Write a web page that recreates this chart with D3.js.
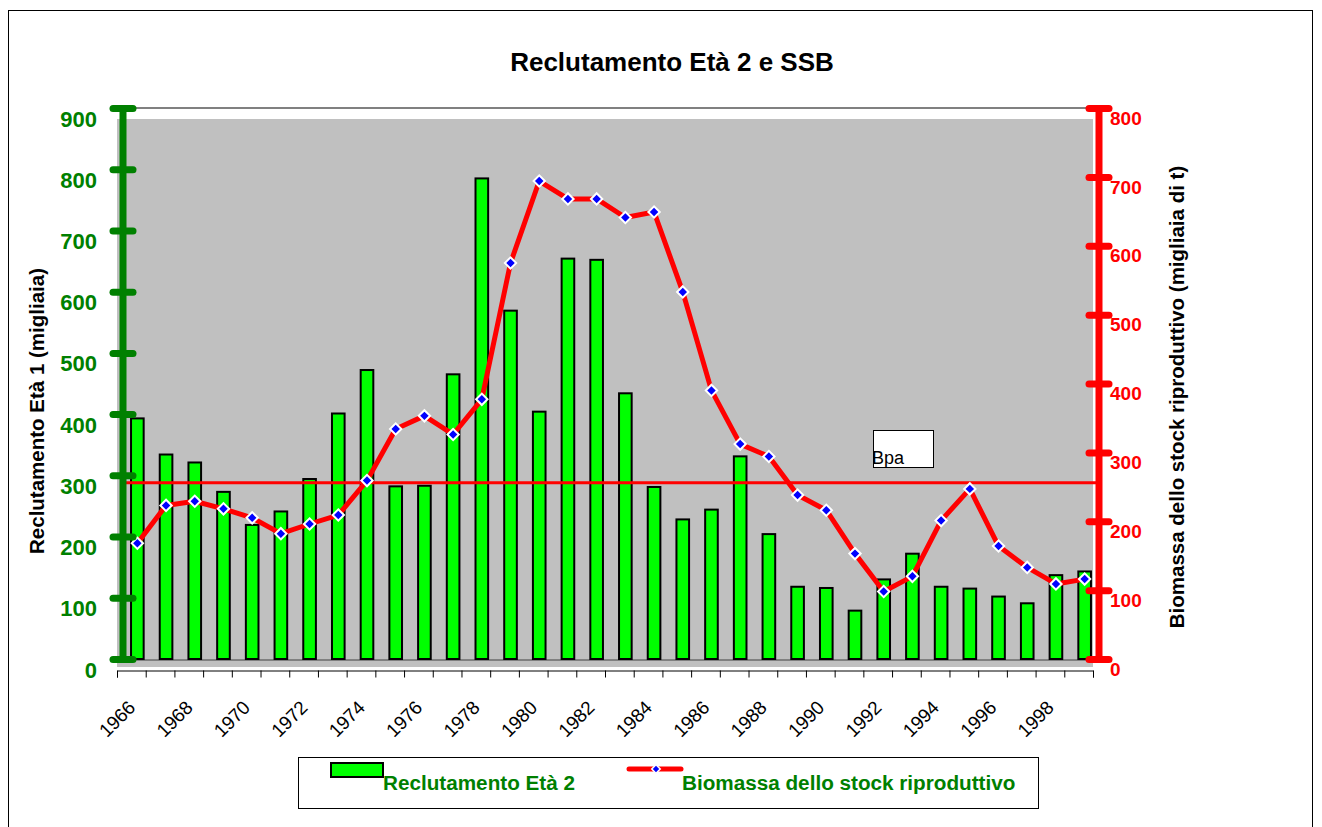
<!DOCTYPE html>
<html>
<head>
<meta charset="utf-8">
<script src="https://cdn.jsdelivr.net/npm/d3@7"></script>
<style>
  body { margin: 0; background: #fff; }
  text { font-family: "Liberation Sans", Arial, sans-serif; }
</style>
</head>
<body>
<div class="canvas"></div>
<script>
// Data

const years = d3.range(1966, 2000);
const reclutamento = [393, 334, 321, 273, 219, 241, 294, 401, 472, 282,
                      283, 465, 785, 569, 404, 654, 652, 434, 281, 228,
                      244, 331, 204, 118, 116, 79, 130, 172, 118, 115,
                      102, 91, 137, 143];
const biomassa = [168, 223, 229, 218, 205, 182, 196, 209, 259, 334,
                  353, 326, 377, 575, 694, 668, 668, 641, 649, 533,
                  390, 312, 294, 238, 216, 153, 98, 120, 201, 247,
                  164, 133, 109, 116];
const bpa = 256;
const leftTicks = [0, 100, 200, 300, 400, 500, 600, 700, 800, 900];
const rightTicks = [0, 100, 200, 300, 400, 500, 600, 700, 800];
const yearLabels = d3.range(1966, 2000, 2);

// Plot box

const plot = { left: 123, right: 1099, top: 108, bottom: 659 };

const svg = d3.select(".canvas")
    .append("svg")
        .attr("width", 1322)
        .attr("height", 827);

// outer chart border
svg.append("rect")
    .attr("x", 8.5).attr("y", 10.5)
    .attr("width", 1304).attr("height", 830)
    .attr("fill", "none")
    .attr("stroke", "#000");

// Scales

const x = d3.scaleBand()
    .domain(years)
    .range([plot.left, plot.right]);

const yL = d3.scaleLinear()
    .domain([0, 900])
    .range([plot.bottom, plot.top]);

const yR = d3.scaleLinear()
    .domain([0, 800])
    .range([plot.bottom, plot.top]);

// the category axis sits a little left of and below the plot, like the original
const xAxisScale = d3.scaleLinear()
    .domain([0, years.length])
    .range([plot.left - 6, plot.right - 6]);

// Plot area background (offset like the original)

svg.append("rect")
    .attr("x", plot.left - 6)
    .attr("y", plot.top + 11)
    .attr("width", plot.right - plot.left)
    .attr("height", plot.bottom - plot.top - 3)
    .attr("fill", "#c0c0c0");

svg.append("rect")
    .attr("x", plot.left)
    .attr("y", plot.top)
    .attr("width", plot.right - plot.left)
    .attr("height", plot.bottom - plot.top + 1)
    .attr("fill", "none")
    .attr("stroke", "#808080")
    .attr("stroke-width", 2);

// Title

svg.append("text")
    .attr("x", 672)
    .attr("y", 71)
    .attr("text-anchor", "middle")
    .attr("font-size", 26)
    .attr("font-weight", "bold")
    .text("Reclutamento Età 2 e SSB");

// Bars

const barW = x.bandwidth() * 0.44;

svg.append("g")
    .selectAll("rect")
    .data(years)
    .join("rect")
        .attr("x", d => x(d) + x.bandwidth() / 2 - barW / 2)
        .attr("y", (d, i) => yL(reclutamento[i]))
        .attr("width", barW)
        .attr("height", (d, i) => yL(0) - yL(reclutamento[i]))
        .attr("fill", "#00ff00")
        .attr("stroke", "#000")
        .attr("stroke-width", 2);

// Bpa reference line

svg.append("line")
    .attr("x1", plot.left + 2)
    .attr("x2", plot.right)
    .attr("y1", yR(bpa))
    .attr("y2", yR(bpa))
    .attr("stroke", "#ff0000")
    .attr("stroke-width", 3);

svg.append("rect")
    .attr("x", 873.5).attr("y", 430.5)
    .attr("width", 60).attr("height", 37)
    .attr("fill", "#fff")
    .attr("stroke", "#000");

svg.append("text")
    .attr("x", 872)
    .attr("y", 464)
    .attr("font-size", 18)
    .text("Bpa");

// SSB line

const line = d3.line()
    .x((d, i) => x(years[i]) + x.bandwidth() / 2)
    .y(d => yR(d));

svg.append("path")
    .datum(biomassa)
    .attr("fill", "none")
    .attr("stroke", "#ff0000")
    .attr("stroke-width", 5)
    .attr("stroke-linejoin", "round")
    .attr("d", line);

const diamond = d3.symbol().type(d3.symbolSquare).size(64);

svg.append("g")
    .selectAll("path")
    .data(biomassa)
    .join("path")
        .attr("transform", (d, i) => `translate(${x(years[i]) + x.bandwidth() / 2},${yR(d)}) rotate(45)`)
        .attr("d", diamond)
        .attr("fill", "#0000ff")
        .attr("stroke", "#fff")
        .attr("stroke-width", 2);

// Left axis (green)

const leftAxis = svg.append("g")
    .attr("transform", `translate(${plot.left},0)`)
    .call(d3.axisLeft(yL).tickValues(leftTicks).tickSize(0).tickPadding(26));

leftAxis.select(".domain").remove();
leftAxis.append("line")
    .attr("y1", plot.top).attr("y2", plot.bottom)
    .attr("stroke", "#008000").attr("stroke-width", 7);
leftAxis.selectAll(".tick line")
    .attr("x1", -10).attr("x2", 10)
    .attr("stroke", "#008000")
    .attr("stroke-width", 7)
    .attr("stroke-linecap", "round");
leftAxis.selectAll(".tick text")
    .attr("dy", "0.82em")
    .attr("fill", "#008000")
    .attr("font-size", 22)
    .attr("font-weight", "bold")
    .attr("font-family", "Liberation Sans, Arial, sans-serif");

// Right axis (red)

const rightAxis = svg.append("g")
    .attr("transform", `translate(${plot.right},0)`)
    .call(d3.axisRight(yR).tickValues(rightTicks).tickSize(0).tickPadding(11));

rightAxis.select(".domain").remove();
rightAxis.append("line")
    .attr("y1", plot.top).attr("y2", plot.bottom)
    .attr("stroke", "#ff0000").attr("stroke-width", 7);
rightAxis.selectAll(".tick line")
    .attr("x1", -10).attr("x2", 10)
    .attr("stroke", "#ff0000")
    .attr("stroke-width", 7)
    .attr("stroke-linecap", "round");
rightAxis.selectAll(".tick text")
    .attr("dy", "0.85em")
    .attr("fill", "#ff0000")
    .attr("font-size", 19)
    .attr("font-weight", "bold")
    .attr("font-family", "Liberation Sans, Arial, sans-serif");

// Category axis

const xAxis = svg.append("g")
    .attr("transform", "translate(0,670.5)")
    .call(d3.axisBottom(xAxisScale)
        .tickValues(d3.range(years.length + 1))
        .tickSize(7)
        .tickFormat(""));
xAxis.selectAll("path, line").attr("stroke", "#000");

svg.append("g")
    .selectAll("text")
    .data(yearLabels)
    .join("text")
        .attr("transform", d => `translate(${x(d) + x.bandwidth() / 2 - 1},709) rotate(-45)`)
        .attr("text-anchor", "end")
        .attr("font-size", 19)
        .attr("letter-spacing", -0.2)
        .text(d => d);

// Axis titles

svg.append("text")
    .attr("transform", "translate(44,411) rotate(-90)")
    .attr("text-anchor", "middle")
    .attr("font-size", 20.5)
    .attr("font-weight", "bold")
    .text("Reclutamento Età 1 (migliaia)");

svg.append("text")
    .attr("transform", "translate(1184,397) rotate(-90)")
    .attr("text-anchor", "middle")
    .attr("font-size", 20.5)
    .attr("font-weight", "bold")
    .text("Biomassa dello stock riproduttivo (migliaia di t)");

// Legend

const legend = svg.append("g");

legend.append("rect")
    .attr("x", 298.5).attr("y", 757.5)
    .attr("width", 740).attr("height", 51)
    .attr("fill", "#fff")
    .attr("stroke", "#000");

legend.append("rect")
    .attr("x", 331).attr("y", 763)
    .attr("width", 52).attr("height", 14)
    .attr("fill", "#00ff00")
    .attr("stroke", "#000")
    .attr("stroke-width", 2);

legend.append("text")
    .attr("x", 383).attr("y", 790)
    .attr("font-size", 20.7)
    .attr("font-weight", "bold")
    .attr("fill", "#008000")
    .text("Reclutamento Età 2");

legend.append("line")
    .attr("x1", 629).attr("x2", 681)
    .attr("y1", 769).attr("y2", 769)
    .attr("stroke", "#ff0000")
    .attr("stroke-width", 5)
    .attr("stroke-linecap", "round");

legend.append("path")
    .attr("transform", "translate(656,769) rotate(45)")
    .attr("d", d3.symbol().type(d3.symbolSquare).size(36))
    .attr("fill", "#0000ff")
    .attr("stroke", "#fff")
    .attr("stroke-width", 1.5);

legend.append("text")
    .attr("x", 682).attr("y", 790)
    .attr("font-size", 20.7)
    .attr("font-weight", "bold")
    .attr("fill", "#008000")
    .text("Biomassa dello stock riproduttivo");
</script>
</body>
</html>
